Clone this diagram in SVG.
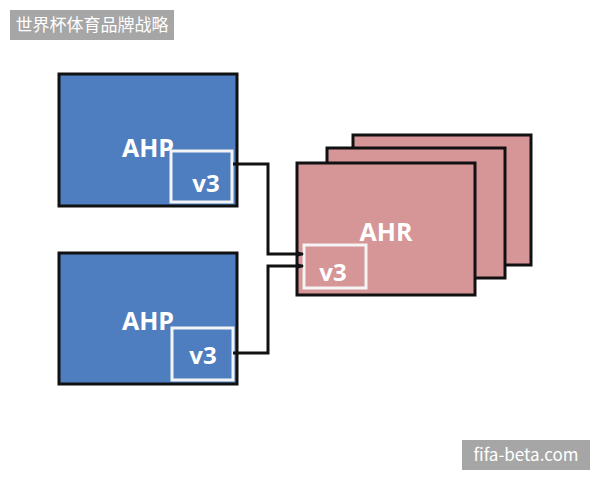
<svg xmlns="http://www.w3.org/2000/svg" width="600" height="480" viewBox="0 0 600 480">
<style>
.blue{fill:#4f7ec0;stroke:#111;stroke-width:3}
.pink{fill:#d69597;stroke:#111;stroke-width:3}
.inner{fill:none;stroke:#f4f4f4;stroke-width:3}
.big{font-family:"Open Sans","Liberation Sans",sans-serif;font-weight:bold;font-size:25px;fill:#fff;text-anchor:middle}
.v3{font-family:"Open Sans","Liberation Sans",sans-serif;font-weight:bold;font-size:24px;fill:#fff;text-anchor:middle}
.wm{fill:#a6a6a6}
.wmt{font-family:"Noto Sans CJK SC","Noto Sans",sans-serif;font-size:17px;fill:#fff}
.conn{fill:none;stroke:#111;stroke-width:3}
</style>
<defs>
<marker id="arr" markerWidth="8" markerHeight="8" refX="7" refY="4" orient="auto" markerUnits="userSpaceOnUse">
<path d="M0,0.5 L8,4 L0,7.5 z" fill="#111"/>
</marker>
</defs>
<rect x="0" y="0" width="600" height="480" fill="#fff"/>
<g id="title">
<rect class="wm" x="10" y="10" width="164" height="30"/>
<text class="wmt" x="92" y="31" text-anchor="middle">世界杯体育品牌战略</text>
</g>
<g id="ahr-back">
<rect class="pink" x="353" y="135" width="178" height="130"/>
</g>
<g id="ahr-mid">
<rect class="pink" x="327" y="148" width="178" height="130"/>
</g>
<g id="ahr">
<rect class="pink" x="297" y="163" width="178" height="132"/>
<text class="big" x="386" y="241">AHR</text>
<rect class="inner" x="304" y="245" width="62" height="43"/>
<text class="v3" x="333" y="281">v3</text>
</g>
<g id="ahp-top">
<rect class="blue" x="59" y="74" width="178" height="132"/>
<text class="big" x="148" y="157">AHP</text>
<rect class="inner" x="171" y="151" width="61" height="51"/>
<text class="v3" x="206" y="192">v3</text>
</g>
<g id="ahp-bottom">
<rect class="blue" x="59" y="253" width="178" height="131"/>
<text class="big" x="148" y="330">AHP</text>
<rect class="inner" x="172" y="328" width="61" height="52"/>
<text class="v3" x="203" y="364">v3</text>
</g>
<g id="connectors">
<polyline class="conn" points="233,164 268,164 268,254 303,254" marker-end="url(#arr)"/>
<polyline class="conn" points="233,353 268,353 268,266 303,266" marker-end="url(#arr)"/>
</g>
<g id="watermark">
<rect class="wm" x="462" y="440" width="128" height="30"/>
<text class="wmt" x="526" y="461" text-anchor="middle">fifa-beta.com</text>
</g>
</svg>
